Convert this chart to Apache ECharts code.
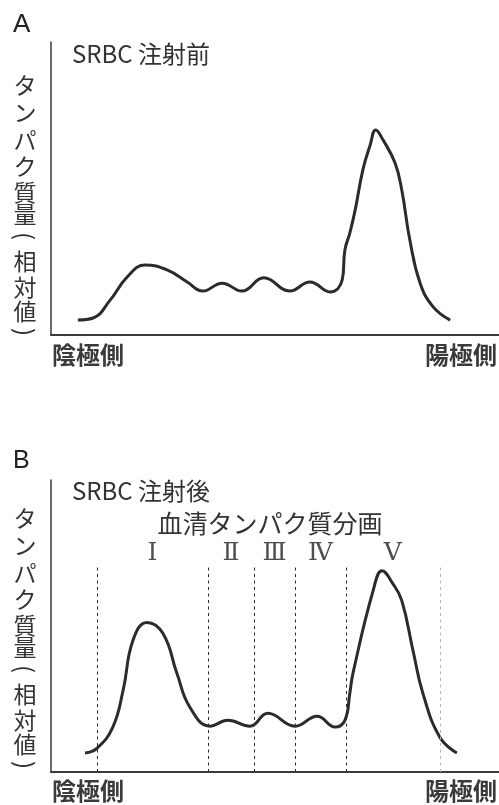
<!DOCTYPE html>
<html><head><meta charset="utf-8">
<script src="https://cdn.jsdelivr.net/npm/echarts@6/dist/echarts.min.js"></script>
<style>html,body{margin:0;padding:0;background:#fff}#c{width:499px;height:805px}</style>
</head><body><div id="c"></div>
<script>
// Relative mobility (0 = left edge of axis, 100 = right edge) and relative protein amount
var beforeX = [6.0, 9.4, 13.2, 17.0, 21.0, 25.9, 30.4, 33.9, 38.2, 42.6, 47.5, 53.3, 57.8, 62.3, 65.0, 65.6, 66.7, 67.9, 69.6, 71.2, 72.5, 74.1, 76.8, 78.3, 80.1, 82.4, 85.3, 89.1];
var beforeY = [5.1, 5.8, 11.9, 19.8, 23.9, 22.2, 18.1, 15.0, 17.7, 15.0, 19.5, 15.0, 18.1, 14.7, 18.8, 29.0, 34.8, 42.7, 56.3, 64.6, 70.0, 66.6, 58.7, 49.5, 32.4, 17.7, 9.6, 5.1];
var afterX = [7.6, 10.3, 13.8, 16.1, 18.3, 21.4, 25.0, 28.1, 31.0, 35.5, 39.5, 44.4, 48.4, 54.5, 59.4, 63.4, 65.6, 66.7, 67.4, 71.9, 73.9, 76.3, 78.3, 80.8, 83.0, 86.8, 90.6];
var afterY = [6.5, 8.2, 15.4, 28.0, 45.1, 51.2, 47.4, 33.8, 22.2, 15.7, 17.7, 15.7, 20.1, 15.7, 19.1, 15.4, 17.7, 27.0, 33.8, 62.1, 68.9, 64.5, 58.7, 41.6, 27.0, 11.9, 6.5];
var fractionBounds = [10.3, 35.0, 45.3, 54.5, 65.8, 86.8];
var fractionNames = ['Ⅰ', 'Ⅱ', 'Ⅲ', 'Ⅳ', 'Ⅴ'];
var yLabelChars = ['タ','ン','パ','ク','質','量','(','相','対','値',')'];

function pairs(xs, ys){ return xs.map(function(x,i){ return [x, ys[i]]; }); }

var chart = echarts.init(document.getElementById('c'), null, {renderer:'canvas'});
var jp = '"Noto Sans CJK JP", "Noto Sans", sans-serif';
var axisCommon = {
  type:'value', min:0, max:100,
  axisTick:{show:false}, axisLabel:{show:false}, splitLine:{show:false}
};
var dashLines = fractionBounds.map(function(b, i){
  var last = i === fractionBounds.length - 1;
  return [
    {coord:[b, 0], lineStyle:{color: last ? '#b5b5b5' : '#2a2a2a', type:[3,3.5], width:1}},
    {coord:[b, 70]}
  ];
});
var numeralData = fractionNames.map(function(n, i){
  return {name:n, value:[(fractionBounds[i] + fractionBounds[i+1]) / 2, 74.7]};
});

// vertical y-axis caption: character centres (layout offsets within the caption)
var charOffsets = [0, 27, 55, 81, 107, 129, 151, 176, 202, 226, 247];
function verticalLabel(topY){
  return yLabelChars.map(function(ch, i){
    var isParen = (ch === '(' || ch === ')');
    return {type:'text', x:25, y:topY + charOffsets[i], rotation: isParen ? -Math.PI/2 : 0,
      style:{text:ch, fontFamily:jp, fontSize: isParen ? 24 : 23, fill:'#333',
             textAlign:'center', textVerticalAlign:'middle'}};
  });
}

var curveStyle = {color:'#2b2b2b', width:3};
chart.setOption({
  animation:false,
  grid:[
    {left:51, top:42, width:448, height:293},
    {left:51, top:480, width:448, height:292}
  ],
  xAxis:[
    Object.assign({gridIndex:0, axisLine:{show:true, lineStyle:{color:'#3a3a3a', width:2}}}, axisCommon),
    Object.assign({gridIndex:1, axisLine:{show:true, lineStyle:{color:'#3a3a3a', width:2}}}, axisCommon)
  ],
  yAxis:[
    Object.assign({gridIndex:0, axisLine:{show:true, lineStyle:{color:'#3a3a3a', width:1.5}}}, axisCommon),
    Object.assign({gridIndex:1, axisLine:{show:true, lineStyle:{color:'#3a3a3a', width:1.5}}}, axisCommon)
  ],
  series:[
    {type:'line', xAxisIndex:0, yAxisIndex:0, data:pairs(beforeX, beforeY), smooth:0.45,
     symbol:'none', lineStyle:curveStyle},
    {type:'line', xAxisIndex:1, yAxisIndex:1, data:pairs(afterX, afterY), smooth:0.45,
     symbol:'none', lineStyle:curveStyle,
     markLine:{silent:true, symbol:['none','none'], label:{show:false}, data:dashLines}},
    {type:'scatter', xAxisIndex:1, yAxisIndex:1, data:numeralData, symbolSize:0,
     label:{show:true, position:'inside', formatter:'{b}', color:'#222',
            fontFamily:'"DejaVu Serif", "Liberation Serif", serif', fontSize:25}}
  ],
  graphic:[
    {type:'text', left:13, top:12, style:{text:'A', font:'26px "Liberation Sans", Arial, sans-serif', fill:'#222'}},
    {type:'text', x:72, y:54, style:{text:'SRBC 注射前', fontFamily:jp, fontSize:24, fill:'#333', textVerticalAlign:'middle'}},
    {type:'text', x:52, y:355, style:{text:'陰極側', fontFamily:jp, fontSize:24, fontWeight:'bold', fill:'#3a3a3a', textVerticalAlign:'middle'}},
    {type:'text', x:497, y:355, style:{text:'陽極側', fontFamily:jp, fontSize:24, fontWeight:'bold', fill:'#3a3a3a', textAlign:'right', textVerticalAlign:'middle'}},

    {type:'text', left:13, top:449, style:{text:'B', font:'25px "Liberation Sans", Arial, sans-serif', fill:'#222'}},
    {type:'text', x:72, y:491, style:{text:'SRBC 注射後', fontFamily:jp, fontSize:24, fill:'#333', textVerticalAlign:'middle'}},
    {type:'text', x:270, y:523, style:{text:'血清タンパク質分画', fontFamily:jp, fontSize:25, fill:'#333', textAlign:'center', textVerticalAlign:'middle'}},
    {type:'text', x:52, y:791, style:{text:'陰極側', fontFamily:jp, fontSize:24, fontWeight:'bold', fill:'#3a3a3a', textVerticalAlign:'middle'}},
    {type:'text', x:497, y:791, style:{text:'陽極側', fontFamily:jp, fontSize:24, fontWeight:'bold', fill:'#3a3a3a', textAlign:'right', textVerticalAlign:'middle'}}
  ].concat(verticalLabel(85), verticalLabel(518))
});
</script></body></html>
